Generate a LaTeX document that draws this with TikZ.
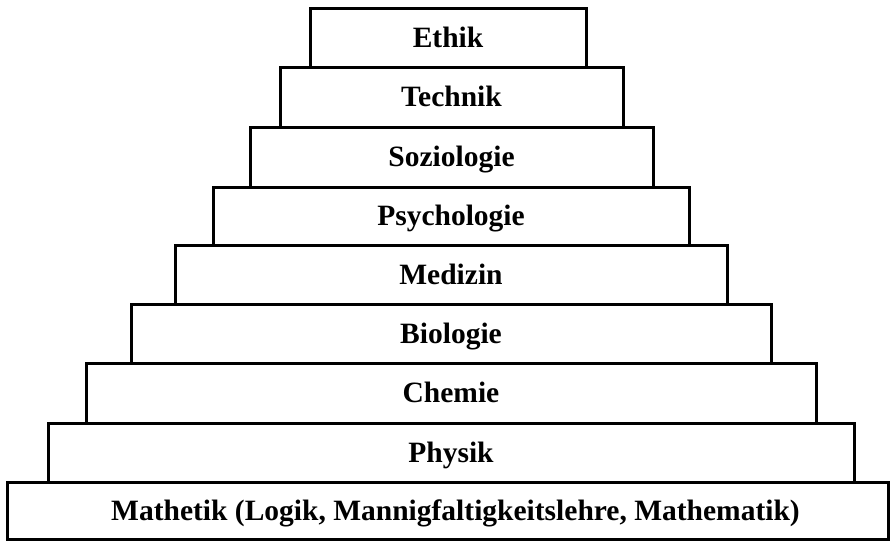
\documentclass[tikz,border=0pt]{standalone}
\usepackage{fontspec}
\setmainfont{Liberation Serif}
\begin{document}
\begin{tikzpicture}[x=1pt,y=-1pt,
  layer/.style={draw=black, line width=3pt, fill=white, inner sep=0pt,
    text height=19.5pt, text depth=0pt,
    font=\fontsize{29.5}{34}\selectfont\bfseries}]
\useasboundingbox (0,0) rectangle (890,541);
\newcommand{\layerbox}[6]{%
  \node[layer, minimum width={(#3-#2)*1pt}, minimum height={(#5-#4)*1pt}] (#1) at ({(#2+#3)/2},{(#4+#5)/2}) {#6};}
\layerbox{ethik}{310}{586}{8}{67}{Ethik}
\layerbox{technik}{280}{623}{67}{127}{Technik}
\layerbox{soz}{250}{653}{127}{187}{Soziologie}
\layerbox{psy}{213}{689}{187}{245}{Psychologie}
\layerbox{med}{175}{727}{245}{304}{Medizin}
\layerbox{bio}{131}{771}{304}{363}{Biologie}
\layerbox{chem}{86}{816}{363}{423}{Chemie}
\layerbox{phys}{48}{854}{423}{482}{Physik}
\layerbox{math}{7}{888}{482}{539}{\hspace*{16pt}Mathetik (Logik, Mannigfaltigkeitslehre, Mathematik)}
\end{tikzpicture}
\end{document}
